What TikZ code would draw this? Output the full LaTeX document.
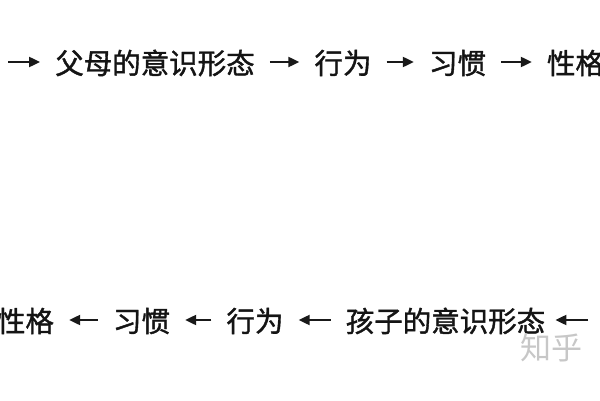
\documentclass[tikz,border=0pt]{standalone}
\usepackage{fontspec}
\newfontfamily\cjk[FakeBold=1.3]{Noto Sans CJK SC}
\newfontfamily\cjkwm{Noto Sans CJK SC}
\usetikzlibrary{arrows.meta}
\tikzset{
  lbl/.style={inner sep=0pt, font=\cjk\fontsize{28.5}{30}\selectfont, text=black!92},
  arr/.style={line width=2.2pt, draw=black!90, -{Triangle[length=11pt,width=10pt]}, shorten <=15pt, shorten >=15pt},
  wm/.style={inner sep=0pt, font=\cjkwm\fontsize{31}{33}\selectfont, text=black!22}
}
\begin{document}
\begin{tikzpicture}[x=1pt,y=1pt]
\useasboundingbox (0,0) rectangle (600,400);
% top row
\coordinate (s0) at (8,338);
\node[lbl] (p1) at (155,337) {父母的意识形态};
\node[lbl] (p2) at (343,337) {行为};
\node[lbl] (p3) at (457.5,337) {习惯};
\node[lbl] (p4) at (575.5,337) {性格};
\draw[arr, shorten <=0pt] (s0) -- (p1.west |- s0);
\draw[arr] (p1.east |- s0) -- (p2.west |- s0);
\draw[arr] (p2.east |- s0) -- (p3.west |- s0);
\draw[arr] (p3.east |- s0) -- (p4.west |- s0);
% bottom row
\coordinate (e0) at (588,80);
\node[lbl] (c1) at (445.5,79) {孩子的意识形态};
\node[lbl] (c2) at (255,79) {行为};
\node[lbl] (c3) at (141.5,79) {习惯};
\node[lbl] (c4) at (25.5,79) {性格};
\draw[arr, shorten <=0pt, shorten >=10pt] (e0) -- (c1.east |- e0);
\draw[arr] (c1.west |- e0) -- (c2.east |- e0);
\draw[arr] (c2.west |- e0) -- (c3.east |- e0);
\draw[arr] (c3.west |- e0) -- (c4.east |- e0);
% watermark
\node[wm] (w) at (551,52) {知乎};
\end{tikzpicture}
\end{document}
